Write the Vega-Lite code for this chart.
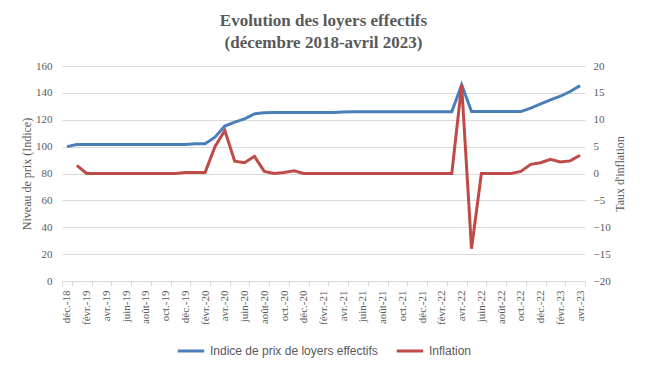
{
  "$schema": "https://vega.github.io/schema/vega-lite/v6.json",
  "autosize": "none",
  "width": 523,
  "height": 215,
  "padding": {"left": 62, "top": 66, "right": 65, "bottom": 86},
  "background": "white",
  "title": {
    "text": ["Evolution des loyers effectifs", "(décembre 2018-avril 2023)"],
    "font": "Liberation Serif",
    "fontSize": 17,
    "fontWeight": "bold",
    "color": "#595959",
    "lineHeight": 22,
    "anchor": "middle",
    "offset": 8
  },
  "config": {
    "view": {"stroke": null},
    "axis": {
      "labelFont": "Liberation Serif",
      "labelFontSize": 11,
      "labelColor": "#595959",
      "titleFont": "Liberation Serif",
      "titleFontSize": 12,
      "titleFontWeight": "normal",
      "titleColor": "#595959",
      "gridColor": "#d9d9d9",
      "domainColor": "#d9d9d9",
      "tickColor": "#d9d9d9"
    },
    "legend": {
      "labelFont": "Liberation Sans",
      "labelFontSize": 12,
      "labelColor": "#595959",
      "labelLimit": 400
    }
  },
  "data": {
    "values": [
      {"m": "déc.-18", "idx": 100, "inf": null},
      {"m": "janv.-19", "idx": 101.5, "inf": 1.5},
      {"m": "févr.-19", "idx": 101.5, "inf": 0},
      {"m": "mars-19", "idx": 101.5, "inf": 0},
      {"m": "avr.-19", "idx": 101.5, "inf": 0},
      {"m": "mai-19", "idx": 101.5, "inf": 0},
      {"m": "juin-19", "idx": 101.5, "inf": 0},
      {"m": "juil.-19", "idx": 101.5, "inf": 0},
      {"m": "août-19", "idx": 101.5, "inf": 0},
      {"m": "sept.-19", "idx": 101.5, "inf": 0},
      {"m": "oct.-19", "idx": 101.5, "inf": 0},
      {"m": "nov.-19", "idx": 101.5, "inf": 0},
      {"m": "déc.-19", "idx": 101.5, "inf": 0.2},
      {"m": "janv.-20", "idx": 102.2, "inf": 0.2},
      {"m": "févr.-20", "idx": 102.2, "inf": 0.2},
      {"m": "mars-20", "idx": 107, "inf": 5.0},
      {"m": "avr.-20", "idx": 115.3, "inf": 8.0},
      {"m": "mai-20", "idx": 118.3, "inf": 2.3},
      {"m": "juin-20", "idx": 120.7, "inf": 2.0},
      {"m": "juil.-20", "idx": 124.4, "inf": 3.2},
      {"m": "août-20", "idx": 125.2, "inf": 0.4},
      {"m": "sept.-20", "idx": 125.4, "inf": 0},
      {"m": "oct.-20", "idx": 125.4, "inf": 0.2},
      {"m": "nov.-20", "idx": 125.4, "inf": 0.5},
      {"m": "déc.-20", "idx": 125.4, "inf": 0},
      {"m": "janv.-21", "idx": 125.4, "inf": 0},
      {"m": "févr.-21", "idx": 125.4, "inf": 0},
      {"m": "mars-21", "idx": 125.4, "inf": 0},
      {"m": "avr.-21", "idx": 125.7, "inf": 0},
      {"m": "mai-21", "idx": 126, "inf": 0},
      {"m": "juin-21", "idx": 126, "inf": 0},
      {"m": "juil.-21", "idx": 126, "inf": 0},
      {"m": "août-21", "idx": 126, "inf": 0},
      {"m": "sept.-21", "idx": 126, "inf": 0},
      {"m": "oct.-21", "idx": 126, "inf": 0},
      {"m": "nov.-21", "idx": 126, "inf": 0},
      {"m": "déc.-21", "idx": 126, "inf": 0},
      {"m": "janv.-22", "idx": 126, "inf": 0},
      {"m": "févr.-22", "idx": 126, "inf": 0},
      {"m": "mars-22", "idx": 126, "inf": 0},
      {"m": "avr.-22", "idx": 146, "inf": 16.5},
      {"m": "mai-22", "idx": 126.1, "inf": -14},
      {"m": "juin-22", "idx": 126.1, "inf": 0},
      {"m": "juil.-22", "idx": 126.1, "inf": 0},
      {"m": "août-22", "idx": 126.1, "inf": 0},
      {"m": "sept.-22", "idx": 126.1, "inf": 0},
      {"m": "oct.-22", "idx": 126.1, "inf": 0.4},
      {"m": "nov.-22", "idx": 128.6, "inf": 1.7},
      {"m": "déc.-22", "idx": 131.8, "inf": 2.0},
      {"m": "janv.-23", "idx": 134.8, "inf": 2.65},
      {"m": "févr.-23", "idx": 137.5, "inf": 2.15},
      {"m": "mars-23", "idx": 141, "inf": 2.35},
      {"m": "avr.-23", "idx": 145.4, "inf": 3.4}
    ]
  },
  "encoding": {
    "x": {
      "field": "m",
      "type": "ordinal",
      "sort": null,
      "bandPosition": 0.5,
      "scale": {"type": "band", "paddingInner": 0, "paddingOuter": 0},
      "axis": {
        "title": null,
        "labelAngle": -90,
        "tickBand": "extent",
        "tickSize": 5,
        "labelPadding": 4,
        "values": ["déc.-18", "févr.-19", "avr.-19", "juin-19", "août-19", "oct.-19", "déc.-19", "févr.-20", "avr.-20", "juin-20", "août-20", "oct.-20", "déc.-20", "févr.-21", "avr.-21", "juin-21", "août-21", "oct.-21", "déc.-21", "févr.-22", "avr.-22", "juin-22", "août-22", "oct.-22", "déc.-22", "févr.-23", "avr.-23"]
      }
    },
    "color": {
      "scale": {
        "domain": ["Indice de prix de loyers effectifs", "Inflation"],
        "range": ["#4a7ebb", "#be4b48"]
      },
      "legend": {
        "title": null,
        "orient": "none",
        "direction": "horizontal",
        "legendX": 114,
        "legendY": 270,
        "symbolType": "stroke",
        "symbolStrokeWidth": 3,
        "symbolSize": 700,
        "columnPadding": 12,
        "labelOffset": 4
      }
    }
  },
  "layer": [
    {
      "mark": {"type": "line", "strokeWidth": 3},
      "encoding": {
        "y": {
          "field": "idx",
          "type": "quantitative",
          "scale": {"domain": [0, 160]},
          "axis": {"title": "Niveau de prix (Indice)", "orient": "left", "values": [0, 20, 40, 60, 80, 100, 120, 140, 160], "domain": false, "ticks": false, "labelPadding": 10, "titlePadding": 2}
        },
        "color": {"datum": "Indice de prix de loyers effectifs"}
      }
    },
    {
      "mark": {"type": "line", "strokeWidth": 3},
      "encoding": {
        "y": {
          "field": "inf",
          "type": "quantitative",
          "scale": {"domain": [-20, 20]},
          "axis": {"title": "Taux d'inflation", "orient": "right", "titleAngle": 270, "values": [-20, -15, -10, -5, 0, 5, 10, 15, 20], "grid": false, "domain": false, "ticks": false, "labelPadding": 8, "titlePadding": 16}
        },
        "color": {"datum": "Inflation"}
      }
    }
  ],
  "resolve": {"scale": {"y": "independent"}}
}
